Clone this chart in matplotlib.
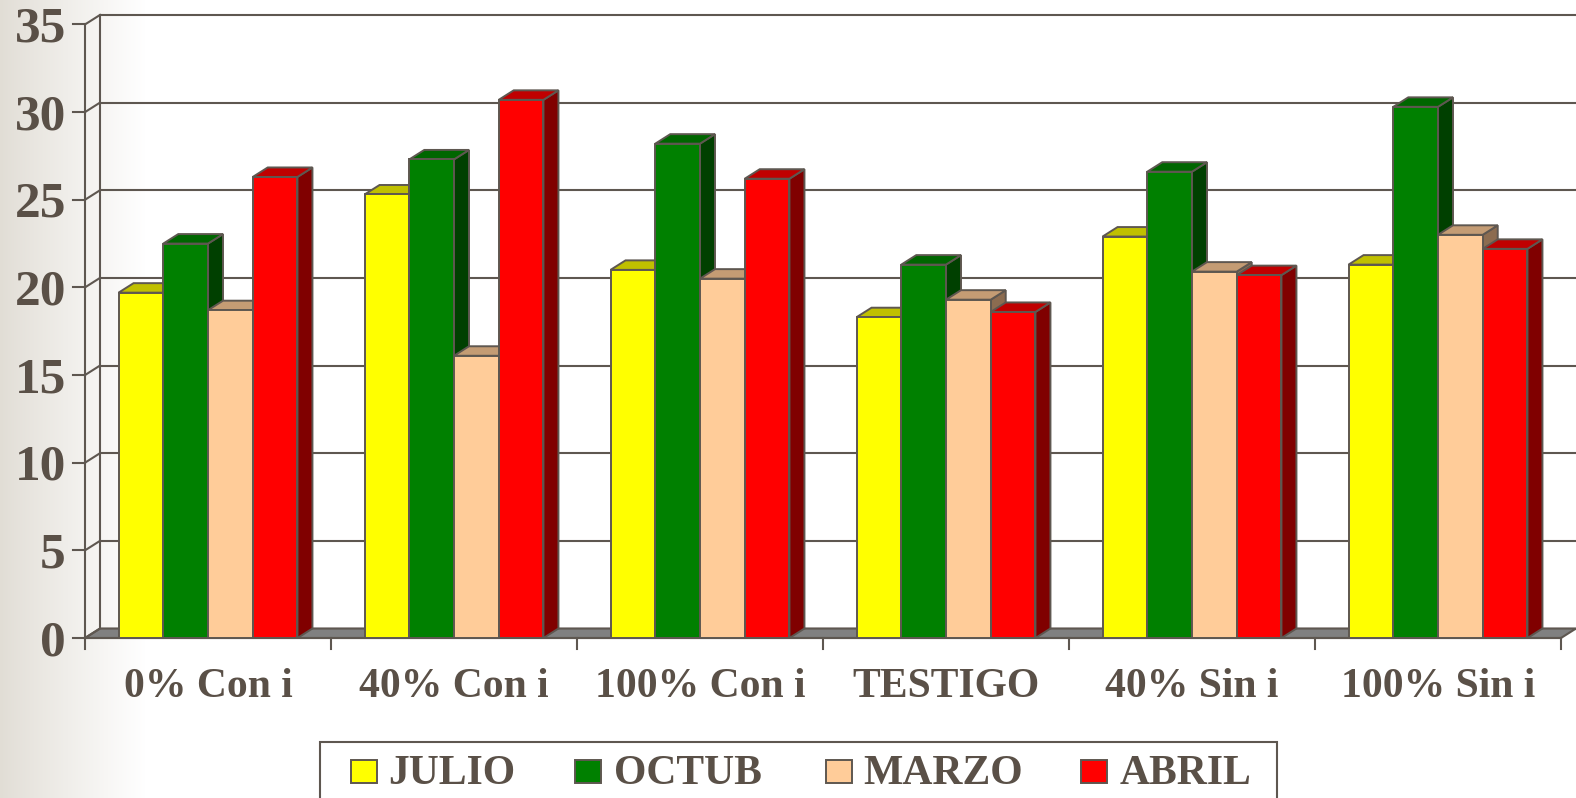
import numpy as np
import matplotlib
matplotlib.use("Agg")
import matplotlib.pyplot as plt
from matplotlib.patches import Polygon, Rectangle

# ---------------- data ----------------
categories = ["0% Con i", "40% Con i", "100% Con i", "TESTIGO", "40% Sin i", "100% Sin i"]
series_names = ["JULIO", "OCTUB", "MARZO", "ABRIL"]
julio = [19.7, 25.3, 21.0, 18.3, 22.9, 21.3]
octub = [22.5, 27.3, 28.2, 21.3, 26.6, 30.3]
marzo = [18.7, 16.1, 20.5, 19.3, 20.9, 23.0]
abril = [26.3, 30.7, 26.2, 18.6, 20.7, 22.2]
y_ticks = [0, 5, 10, 15, 20, 25, 30, 35]

series_values = [julio, octub, marzo, abril]
front_cols = ["#FFFF00", "#008000", "#FFCC99", "#FF0000"]
top_cols = ["#C0C000", "#006600", "#C49C74", "#C00000"]
side_cols = ["#808000", "#004000", "#8C6C50", "#800000"]

# ---------------- layout (pixels) ----------------
W, H, DPI = 1576, 798, 100
X0, Y0 = 85.0, 638.0          # front-axis origin in pixels
CAT_W = 246.0                 # pixels per category
PPU = 17.53                   # pixels per value unit
DXP, DYP = 15.0, 9.5          # depth offset in pixels

TXT = "#5A5047"
LINE = "#5E5750"

def PX(x):
    return (x - X0) / CAT_W

def PY(y):
    return (Y0 - y) / PPU

ddx = DXP / CAT_W
ddy = DYP / PPU
ncat = len(categories)
ymax = y_ticks[-1]

plt.rcParams['font.family'] = ['Liberation Serif', 'DejaVu Serif']

fig = plt.figure(figsize=(W / DPI, H / DPI), dpi=DPI)
ax = fig.add_axes([0, 0, 1, 1])
ax.set_xlim(PX(0), PX(W))
ax.set_ylim(PY(H), PY(0))
ax.axis("off")

# background gradient (left side greyish -> white)
xs = np.arange(W)
t = np.clip(xs / 145.0, 0, 1)
t = t ** 0.9
c0 = np.array([225, 221, 213]) / 255.0
c1 = np.array([1.0, 1.0, 1.0])
grad = c0[None, :] * (1 - t[:, None]) + c1[None, :] * t[:, None]
img = np.tile(grad[None, :, :], (10, 1, 1))
ax.imshow(img, extent=[PX(0), PX(W), PY(H), PY(0)], aspect="auto", zorder=0,
          interpolation="bilinear")

lw_ax = 1.5
# floor
floor = Polygon([(0, 0), (ncat, 0), (ncat + ddx, ddy), (ddx, ddy)], closed=True,
                facecolor="#808080", edgecolor=LINE, lw=lw_ax, zorder=2)
ax.add_patch(floor)

# back wall gridlines + left wall connectors
label_drop = 17.0 / PPU
for v in y_ticks:
    ax.plot([ddx, ncat + ddx], [v + ddy, v + ddy], color=LINE, lw=lw_ax, zorder=1,
            solid_capstyle="butt")
    ax.plot([0, ddx], [v, v + ddy], color=LINE, lw=lw_ax, zorder=3)
    # tick mark
    ax.plot([PX(X0 - 12), 0], [v, v], color=LINE, lw=lw_ax, zorder=3)
    ax.text(PX(66), v - label_drop, str(v), ha="right", va="baseline",
            fontsize=37, fontweight="bold", color=TXT, zorder=5)
ax.plot([ddx, ddx], [ddy, ymax + ddy], color=LINE, lw=lw_ax, zorder=1)
ax.plot([0, 0], [0, ymax], color=LINE, lw=lw_ax, zorder=3)

# front x axis and category ticks
ax.plot([0, ncat], [0, 0], color=LINE, lw=lw_ax, zorder=3)
for k in range(ncat + 1):
    ax.plot([k, k], [0, PY(Y0 + 11)], color=LINE, lw=lw_ax, zorder=3)

# bars (3D look)
nser = len(series_values)
bw = 1.0 / (nser + 1.5)
lw_bar = 1.4
for j, vals in enumerate(series_values):
    lefts = [i + 0.75 * bw + j * bw for i in range(ncat)]
    bars = ax.bar(lefts, vals, width=bw, align="edge", color=front_cols[j],
                  edgecolor=LINE, linewidth=lw_bar, label=series_names[j])
    for i, (patch, v) in enumerate(zip(bars.patches, vals)):
        z = 10 + 3 * (i * nser + j)
        xl = patch.get_x()
        xr = xl + patch.get_width()
        side = Polygon([(xr, 0), (xr + ddx, ddy), (xr + ddx, v + ddy), (xr, v)],
                       closed=True, facecolor=side_cols[j], edgecolor=LINE,
                       lw=lw_bar, zorder=z)
        top = Polygon([(xl, v), (xr, v), (xr + ddx, v + ddy), (xl + ddx, v + ddy)],
                      closed=True, facecolor=top_cols[j], edgecolor=LINE,
                      lw=lw_bar, zorder=z + 1)
        ax.add_patch(side)
        ax.add_patch(top)
        patch.set_zorder(z + 2)

# category labels
for i, name in enumerate(categories):
    ax.text(i + 0.5, PY(697), name, ha="center", va="baseline", fontsize=30,
            fontweight="bold", color=TXT, zorder=5)

# legend (manual)
box = Rectangle((PX(320), PY(810)), PX(1277) - PX(320), PY(742) - PY(810),
                facecolor="white", edgecolor=LINE, lw=lw_ax, zorder=50)
ax.add_patch(box)
leg_mark_x = [351, 575, 826, 1081]
leg_text_x = [388, 614, 863, 1120]
for j, name in enumerate(series_names):
    mx = leg_mark_x[j]
    ax.add_patch(Rectangle((PX(mx), PY(783)), PX(mx + 26) - PX(mx), PY(760) - PY(783),
                           facecolor=front_cols[j], edgecolor=LINE, lw=1.4, zorder=51))
    ax.text(PX(leg_text_x[j]), PY(784), name, ha="left", va="baseline", fontsize=30,
            fontweight="bold", color=TXT, zorder=52)

fig.savefig("out.png", dpi=DPI)
